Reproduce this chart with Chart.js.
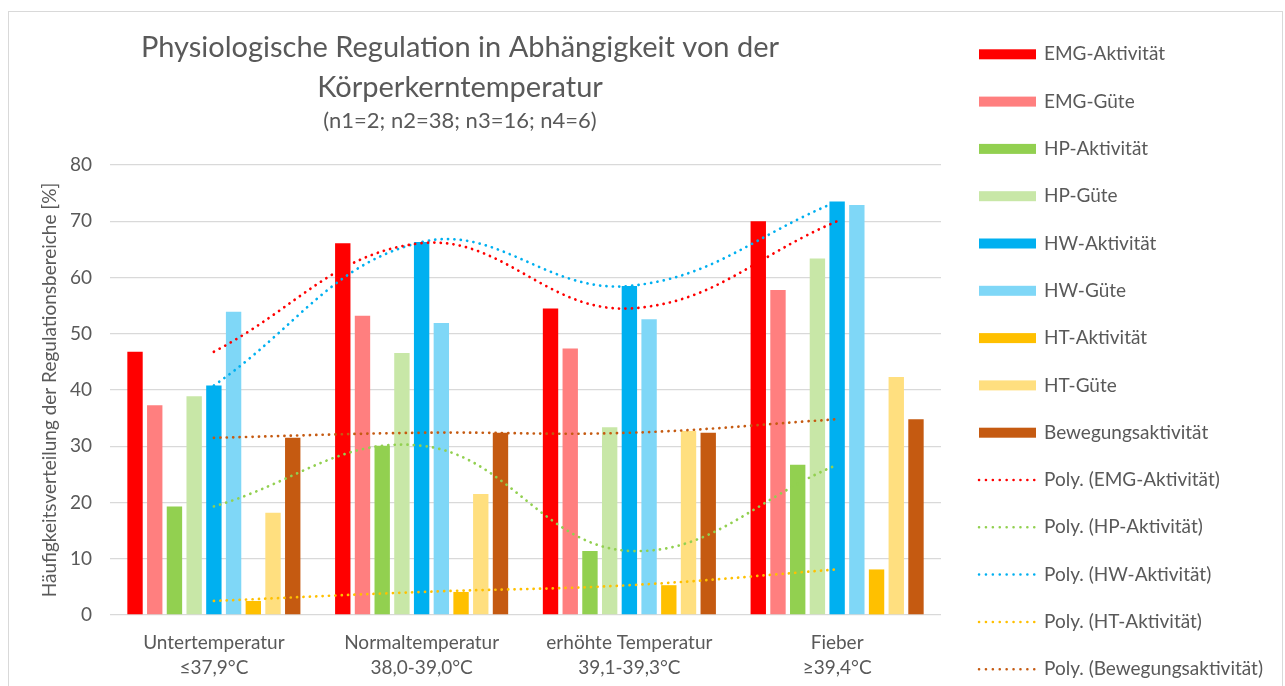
<!DOCTYPE html>
<html lang="de">
<head>
<meta charset="utf-8">
<title>Physiologische Regulation</title>
<script src="https://cdn.jsdelivr.net/npm/chart.js@4.4.1/dist/chart.umd.min.js"></script>
<style>
    html, body { margin: 0; padding: 0; background: #fff; }
    #wrap { width: 1285px; height: 686px; }
</style>
</head>
<body>
<div id="wrap"><canvas id="regulationChart" width="1285" height="686"></canvas></div>
<script>
// Kategorien: Bereiche der Körperkerntemperatur
const categories = [
    ['Untertemperatur', '≤37,9°C'],
    ['Normaltemperatur', '38,0-39,0°C'],
    ['erhöhte Temperatur', '39,1-39,3°C'],
    ['Fieber', '≥39,4°C']
];

// Werte in %
const emgAktivitaet = [46.8, 66.1, 54.5, 70.0];
const emgGuete      = [37.3, 53.2, 47.4, 57.8];
const hpAktivitaet  = [19.3, 30.1, 11.4, 26.7];
const hpGuete       = [38.9, 46.6, 33.4, 63.4];
const hwAktivitaet  = [40.8, 66.3, 58.5, 73.5];
const hwGuete       = [53.9, 51.9, 52.6, 72.9];
const htAktivitaet  = [2.5, 4.1, 5.3, 8.1];
const htGuete       = [18.2, 21.5, 32.7, 42.3];
const bewegung      = [31.5, 32.4, 32.4, 34.8];

const titleLines = ['Physiologische Regulation in Abhängigkeit von der', 'Körperkerntemperatur'];
const subTitle = '(n1=2; n2=38; n3=16; n4=6)';
const yAxisTitle = 'Häufigkeitsverteilung der Regulationsbereiche [%]';

const textColor = '#595959';
const fontFamily = 'Lato, "Open Sans", sans-serif';

// Hilfsfunktionen für die Datensätze
function bar(label, data, color) {
    return { type: 'bar', label: label, data: data, backgroundColor: color, borderWidth: 0, order: 1 };
}
function poly(label, data, color) {
    return {
        type: 'line', label: label, data: data,
        borderColor: color, borderWidth: 2.7, borderDash: [0.1, 6.3], borderCapStyle: 'round',
        pointRadius: 0, tension: 0.4, fill: false, order: 0
    };
}

// Rahmen, Titel und Legende (rechts) zeichnen
const decorations = {
    id: 'decorations',
    beforeDraw(chart) {
        const ctx = chart.ctx;
        ctx.save();
        ctx.fillStyle = '#ffffff';
        ctx.fillRect(0, 0, chart.width, chart.height);
        ctx.strokeStyle = '#D9D9D9';
        ctx.lineWidth = 1;
        ctx.strokeRect(8.5, 11.5, 1274, 700);

        ctx.fillStyle = textColor;
        ctx.textAlign = 'center';
        ctx.textBaseline = 'alphabetic';
        ctx.font = '29px ' + fontFamily;
        ctx.fillText(titleLines[0], 460, 57);
        ctx.fillText(titleLines[1], 460, 97);
        ctx.font = '22px ' + fontFamily;
        ctx.fillText(subTitle, 460, 128);
        ctx.restore();
    },
    afterDraw(chart) {
        const ctx = chart.ctx;
        ctx.save();
        chart.data.datasets.forEach(function(ds, i) {
            const y = 54.3 + i * 47.3;
            if (ds.type === 'line') {
                ctx.strokeStyle = ds.borderColor;
                ctx.lineWidth = 2.5;
                ctx.lineCap = 'round';
                ctx.setLineDash([0.1, 6.8]);
                ctx.beginPath();
                ctx.moveTo(979, y);
                ctx.lineTo(1035, y);
                ctx.stroke();
                ctx.setLineDash([]);
            } else {
                ctx.fillStyle = ds.backgroundColor;
                ctx.fillRect(979, y - 5, 57, 10);
            }
            ctx.fillStyle = textColor;
            ctx.font = '19px ' + fontFamily;
            ctx.textAlign = 'left';
            ctx.textBaseline = 'middle';
            ctx.fillText(ds.label, 1044, y);
        });
        ctx.restore();
    }
};

const ctx = document.getElementById('regulationChart').getContext('2d');
const regulationChart = new Chart(ctx, {
    data: {
        labels: categories,
        datasets: [
            bar('EMG-Aktivität', emgAktivitaet, '#FF0000'),
            bar('EMG-Güte', emgGuete, '#FF7F7F'),
            bar('HP-Aktivität', hpAktivitaet, '#92D050'),
            bar('HP-Güte', hpGuete, '#C8E7A7'),
            bar('HW-Aktivität', hwAktivitaet, '#00B0F0'),
            bar('HW-Güte', hwGuete, '#7FD7F7'),
            bar('HT-Aktivität', htAktivitaet, '#FFC000'),
            bar('HT-Güte', htGuete, '#FFDF7F'),
            bar('Bewegungsaktivität', bewegung, '#C55A11'),
            poly('Poly. (EMG-Aktivität)', emgAktivitaet, '#FF0000'),
            poly('Poly. (HP-Aktivität)', hpAktivitaet, '#92D050'),
            poly('Poly. (HW-Aktivität)', hwAktivitaet, '#00B0F0'),
            poly('Poly. (HT-Aktivität)', htAktivitaet, '#FFC000'),
            poly('Poly. (Bewegungsaktivität)', bewegung, '#C55A11')
        ]
    },
    options: {
        responsive: false,
        animation: false,
        layout: { padding: { top: 165, right: 344, bottom: 0, left: 20 } },
        datasets: {
            bar: { categoryPercentage: 0.854, barPercentage: 0.78 }
        },
        plugins: {
            legend: { display: false },
            tooltip: { enabled: false }
        },
        scales: {
            x: {
                grid: { display: false },
                border: { display: false },
                ticks: {
                    color: textColor,
                    padding: 7,
                    font: { family: fontFamily, size: 19, lineHeight: 1.32 }
                },
                afterFit: function(scale) { scale.height = 71; }
            },
            y: {
                min: 0,
                max: 80,
                ticks: {
                    stepSize: 10,
                    color: textColor,
                    padding: 18,
                    font: { family: fontFamily, size: 19 }
                },
                grid: { color: '#D9D9D9', lineWidth: 1.3, drawTicks: false },
                border: { display: false },
                title: {
                    display: true,
                    text: yAxisTitle,
                    color: textColor,
                    padding: { top: 18, bottom: 0 },
                    font: { family: fontFamily, size: 19 }
                },
                afterFit: function(scale) { scale.width = 90; }
            }
        }
    },
    plugins: [decorations]
});
</script>
</body>
</html>
